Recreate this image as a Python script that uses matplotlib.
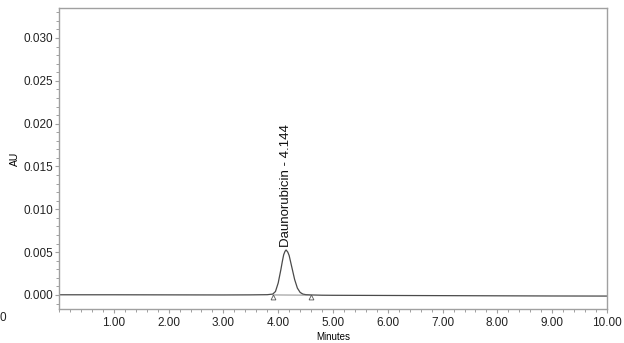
import matplotlib
matplotlib.use('Agg')
from matplotlib import pyplot as plt
from matplotlib.ticker import MultipleLocator, FormatStrFormatter

# chromatogram trace (minutes, AU)
minutes = [0.0, 1.0, 2.0, 3.0, 3.5, 3.8, 3.9, 3.95, 4.0, 4.025, 4.05, 4.075,
           4.1, 4.125, 4.144, 4.175, 4.2, 4.225, 4.25, 4.275, 4.3, 4.325,
           4.35, 4.4, 4.45, 4.5, 4.6, 4.8, 5.0, 6.0, 7.0, 8.0, 9.0, 10.0]
au = [0.00002, 0.00002, 0.00001, 0.00000, 0.00001, 0.00003, 0.0001, 0.0004,
      0.0014, 0.0022, 0.0030, 0.0039, 0.0047, 0.0051, 0.00525, 0.0050,
      0.0046, 0.0039, 0.0032, 0.0025, 0.0018, 0.0013, 0.0008, 0.0003,
      0.0001, 0.00004, 0.0, -0.00003, -0.00004, -0.00006, -0.00008,
      -0.0001, -0.00012, -0.00013]

peak_name = 'Daunorubicin - 4.144'
peak_rt = 4.144
peak_height = 0.00525
peak_start = 3.90
peak_end = 4.59

frame = '#a0a0a0'
plt.rcParams['font.family'] = ['Liberation Sans', 'DejaVu Sans']

fig = plt.figure(figsize=(6.24, 3.43), dpi=100)
ax = fig.add_axes([59 / 624, 34 / 343, 548 / 624, 301 / 343])

ax.plot(minutes, au, color='#4a4a4a', lw=0.9)
# integration baseline and start/end markers
ax.plot([peak_start, peak_end], [0.0, -0.00002], color='#777777', lw=0.6)
ax.plot([peak_start, peak_end], [-0.00025, -0.00025], ls='none', marker='^',
        ms=3.5, mfc='white', mec='#555555', mew=0.6)

ax.text(peak_rt, peak_height + 0.0003, peak_name, rotation=90,
        ha='center', va='bottom', fontsize=9.5, color='#111111')

ax.set_xlim(0, 10)
ax.set_ylim(-0.00164, 0.0335)
ax.set_xticks([1, 2, 3, 4, 5, 6, 7, 8, 9, 10])
ax.xaxis.set_major_formatter(FormatStrFormatter('%.2f'))
ax.xaxis.set_minor_locator(MultipleLocator(0.2))
ax.yaxis.set_major_formatter(FormatStrFormatter('%.3f'))
ax.yaxis.set_minor_locator(MultipleLocator(0.001))
ax.set_yticks([0, 0.005, 0.010, 0.015, 0.020, 0.025, 0.030])

for s in ax.spines.values():
    s.set_color(frame)
    s.set_linewidth(1.0)
ax.tick_params(which='major', length=3, width=0.8, color=frame,
               labelsize=8.5, labelcolor='#222222', pad=1)
ax.tick_params(which='minor', length=2, width=0.7, color=frame)
ax.tick_params(axis='x', which='major', pad=3)

ax.set_xlabel('Minutes', fontsize=7, labelpad=2)
ax.set_ylabel('AU', fontsize=7.5, labelpad=3)

fig.text(0.0, (343 - 318) / 343, '0', fontsize=8.5, color='#222222',
         ha='left', va='center')

fig.savefig('out.png', dpi=100)
